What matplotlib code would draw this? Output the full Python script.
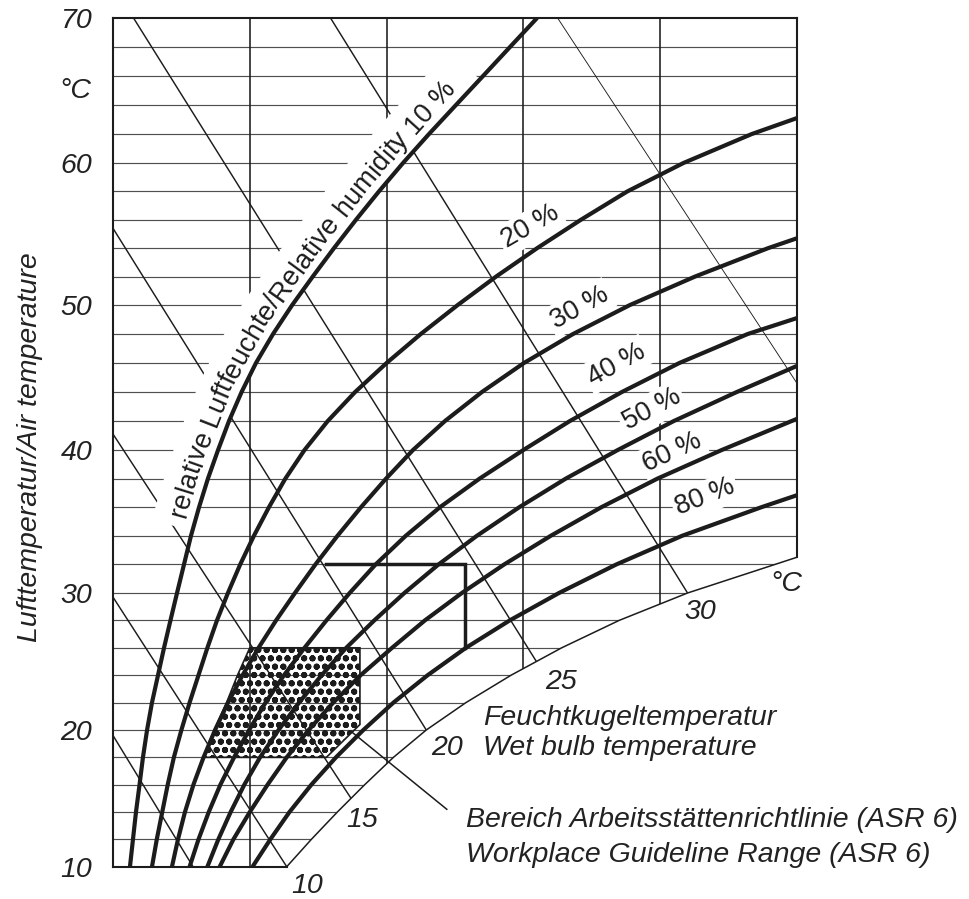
import numpy as np
import matplotlib
matplotlib.use("Agg")
import matplotlib.pyplot as plt
from matplotlib.patches import Polygon
from matplotlib.ticker import NullLocator

plt.rcParams['font.family'] = ['Liberation Sans', 'DejaVu Sans']
plt.rcParams['hatch.linewidth'] = 2.0

# ------------------------------------------------------------------ data
# x: water-vapour scale (0..50), y: air temperature in degC
rh10_T = [10, 12, 14, 16, 18, 20, 22, 24, 26, 28, 30, 32, 34, 36, 38, 40,
          42, 44, 46, 48, 50, 52, 54, 56, 58, 60, 62, 64, 66, 68, 70]
rh10_e = [1.24, 1.46, 1.68, 1.94, 2.19, 2.49, 2.85, 3.29, 3.73, 4.20, 4.68, 5.19, 5.70, 6.29,
          6.94, 7.68, 8.48, 9.40, 10.45, 11.70, 13.10, 14.60, 16.15, 17.76, 19.44, 21.20,
          23.10, 25.07, 27.05, 29.02, 31.0]
rh20_T = [10, 12, 14, 16, 18, 20, 22, 24, 26, 28, 30, 32, 34, 36, 38, 40,
          42, 44, 46, 48, 50, 52, 54, 56, 58, 60, 62, 63.1]
rh20_e = [2.85, 3.2, 3.6, 4.0, 4.45, 5.0, 5.6, 6.25, 6.9, 7.6, 8.4, 9.3, 10.3, 11.4, 12.6, 14.0,
          15.7, 17.7, 20.0, 22.5, 25.2, 28.0, 31.0, 34.2, 37.6, 41.7, 46.7, 50.0]
rh30_T = [10, 12, 14, 16, 18, 20, 22, 24, 26, 28, 30, 32, 34, 36, 38, 40,
          42, 44, 46, 48, 50, 52, 54, 54.7]
rh30_e = [4.31, 4.75, 5.26, 5.88, 6.62, 7.46, 8.41, 9.47, 10.64, 11.92, 13.30, 14.80, 16.41,
          18.13, 19.96, 21.93, 24.27, 26.97, 30.04, 33.63, 37.79, 42.54, 47.88, 50.0]
rh40_T = [10, 12, 14, 16, 18, 20, 22, 24, 26, 28, 30, 32, 34, 36, 38, 40,
          42, 44, 46, 48, 49.1]
rh40_e = [5.6, 6.25, 7.0, 7.85, 8.85, 9.95, 11.15, 12.5, 14.0, 15.6, 17.3, 19.2, 21.4, 23.9,
          26.8, 30.0, 33.4, 37.2, 41.4, 46.4, 50.0]
rh50_T = [10, 12, 14, 16, 18, 20, 22, 24, 26, 28, 30, 32, 34, 36, 38, 40, 42, 44, 45.8]
rh50_e = [6.9, 7.7, 8.6, 9.6, 10.75, 12.1, 13.6, 15.25, 17.05, 19.1, 21.3, 23.8, 26.6, 29.7,
          33.1, 36.9, 41.0, 45.6, 50.0]
rh60_T = [10, 12, 14, 16, 18, 20, 22, 24, 26, 28, 30, 32, 34, 36, 38, 40, 42.15]
rh60_e = [7.8, 8.8, 10.0, 11.3, 12.7, 14.3, 16.1, 18.1, 20.4, 22.8, 25.5, 28.6, 32.0, 35.7, 39.8,
          44.5, 50.0]
rh80_T = [10, 12, 14, 16, 18, 20, 22, 24, 26, 28, 30, 32, 34, 36, 36.84]
rh80_e = [10.2, 11.5, 12.9, 14.5, 16.3, 18.3, 20.5, 23.0, 25.8, 29.0, 32.6, 36.8, 41.6, 47.4, 50.0]
# saturation line (100 %), lower right boundary of the chart
sat_T = [10, 12, 14, 16, 18, 20, 22, 24, 26, 28, 30, 32, 32.5]
sat_e = [12.7, 14.5, 16.4, 18.4, 20.5, 22.9, 25.8, 29.1, 32.8, 37.0, 42.0, 48.4, 50.0]

# wet bulb temperature lines (start / end points)
wb_e0 = [0.0, 0.0, 0.0, 0.0, 1.5, 15.9, 32.5]
wb_T0 = [19.6, 29.7, 41.1, 55.4, 70.0, 70.0, 70.0]
wb_e1 = [5.85, 12.7, 17.4, 22.9, 30.95, 42.0, 50.0]
wb_T1 = [10.0, 10.0, 15.0, 20.0, 25.0, 30.0, 44.6]
wb_labels = ['10', '15', '20', '25', '30']

# ASR 6 range (dotted area), upper limit line and leader
asr_e = [10.0, 18.05, 18.05, 15.6, 6.7, 7.4, 8.3, 9.1]
asr_T = [26, 26, 20.4, 18, 18, 20, 22, 24]
limit_e = [15.6, 25.7, 25.7]
limit_T = [32, 32, 26]
leader_e = [17.4, 24.4]
leader_T = [19.9, 14.2]

rh_label_text = ['20 %', '30 %', '40 %', '50 %', '60 %', '80 %']
rh_label_e = [30.5, 34.1, 36.8, 39.4, 40.9, 43.3]
rh_label_T = [55.5, 49.8, 45.9, 42.8, 39.8, 36.7]
rh_label_rot = [30, 29, 29, 28, 25, 22]

y_ticks = [10, 20, 30, 40, 50, 60, 70]
y_tick_labels = ['10', '20', '30', '40', '50', '60', '70']
x_grid = [10, 20, 30, 40]
h_grid = list(range(12, 70, 2))
curved_label = 'relative Luftfeuchte/Relative humidity 10 %'

# temperature axis calibration (axis is slightly non-uniform in the source)
scale_T = [10, 20, 30, 40, 50, 60, 70]
scale_u = [0.0, 136.7, 273.7, 416.7, 561.7, 703.7, 848.7]

# ------------------------------------------------------------------ figure
W, H = 969, 899
fig = plt.figure(figsize=(W / 100, H / 100), dpi=100)
fig.patch.set_facecolor('white')
ax = fig.add_axes([113 / W, (H - 866.7) / H, 684 / W, 848.7 / H])


def fwd(t):
    return np.interp(t, scale_T, scale_u)


def inv(u):
    return np.interp(u, scale_u, scale_T)


ax.set_yscale('function', functions=(fwd, inv))
ax.set_xlim(0, 50)
ax.set_ylim(10, 70)
for s in ax.spines.values():
    s.set_visible(False)
ax.set_xticks([])
ax.set_yticks(y_ticks)
FS = 20.5
FS_IN = 19.5
INK = '#1c1c1c'
ax.set_yticklabels(y_tick_labels, fontsize=FS, fontstyle='italic', color='#222222')
ax.yaxis.set_minor_locator(NullLocator())
ax.tick_params(axis='y', length=0, pad=15)

region = Polygon([(0, 10)] + list(zip(sat_e, sat_T)) + [(50, 70), (0, 70)],
                 closed=True, fc='none', ec='none', transform=ax.transData)
ax.add_patch(region)

for T in h_grid:
    ln, = ax.plot([0, 50], [T, T], color='#505050', lw=0.85, zorder=1)
    ln.set_clip_path(region)
for xv in x_grid:
    ln, = ax.plot([xv, xv], [10, 70], color=INK, lw=1.15, zorder=1.2)
    ln.set_clip_path(region)
for i in range(len(wb_e0)):
    lw = 0.65 if i == len(wb_e0) - 1 else 1.05
    ln, = ax.plot([wb_e0[i], wb_e1[i]], [wb_T0[i], wb_T1[i]], color=INK, lw=lw, zorder=1.5)
    ln.set_clip_path(region)

# dotted ASR area
ax.add_patch(Polygon(list(zip(asr_e, asr_T)), closed=True, fc='none', ec=INK,
                     lw=1.2, hatch='oo', zorder=2.5))

# relative humidity curves
for Ts, es in [(rh10_T, rh10_e), (rh20_T, rh20_e), (rh30_T, rh30_e), (rh40_T, rh40_e),
               (rh50_T, rh50_e), (rh60_T, rh60_e), (rh80_T, rh80_e)]:
    ln, = ax.plot(es, Ts, color=INK, lw=3.0, zorder=5, solid_capstyle='butt',
                  solid_joinstyle='round')
    ln.set_clip_path(region)

# saturation line and borders
ax.plot(sat_e, sat_T, color=INK, lw=1.1, zorder=6)
ax.plot([0, 0], [10, 70], color=INK, lw=1.5, zorder=6, clip_on=False)
ax.plot([0, 50], [70, 70], color=INK, lw=1.5, zorder=6, clip_on=False)
ax.plot([50, 50], [sat_T[-1], 70], color=INK, lw=1.5, zorder=6, clip_on=False)
ax.plot([0, sat_e[0]], [10, 10], color=INK, lw=1.5, zorder=6, clip_on=False)

ax.plot(limit_e, limit_T, color=INK, lw=2.5, zorder=5, solid_joinstyle='miter')
ax.plot(leader_e, leader_T, color=INK, lw=1.1, zorder=5, clip_on=False)

for txt, xe, yt, rot in zip(rh_label_text, rh_label_e, rh_label_T, rh_label_rot):
    ax.text(xe, yt, txt, fontsize=FS_IN, rotation=rot, rotation_mode='anchor',
            ha='center', va='center', color=INK, zorder=4,
            bbox=dict(boxstyle='square,pad=0.12', fc='white', ec='none'))

# ------------------------------------------------------------------ curved label
fig.canvas.draw()
renderer = fig.canvas.get_renderer()
P = ax.transData.transform(np.column_stack([rh10_e, rh10_T]))
S = np.concatenate([[0.0], np.cumsum(np.hypot(*np.diff(P, axis=0).T))])


def pt(s):
    return np.array([np.interp(s, S, P[:, 0]), np.interp(s, S, P[:, 1])])


def nrm(s, h=14.0):
    a, b = pt(s - h), pt(s + h)
    t = (b - a) / np.hypot(*(b - a))
    return np.array([-t[1], t[0]])


ss = np.arange(0.0, S[-1], 2.0)


def offset(d):
    return np.array([pt(s) + d * nrm(s) for s in ss])


to_data = ax.transData.inverted()
s_a = np.interp(34.3, rh10_T, S)
s_b = np.interp(65.8, rh10_T, S)
sel = (ss >= s_a) & (ss <= s_b)
band = to_data.transform(offset(21.0)[sel])
ax.plot(band[:, 0], band[:, 1], color='white', lw=42 * 0.72, zorder=3,
        solid_capstyle='butt')

Q = offset(10.0)
SQ = np.concatenate([[0.0], np.cumsum(np.hypot(*np.diff(Q, axis=0).T))])


def qpt(s):
    return np.array([np.interp(s, SQ, Q[:, 0]), np.interp(s, SQ, Q[:, 1])])


def width(s):
    t = fig.text(0, 0, s, fontsize=FS_IN)
    w = t.get_window_extent(renderer).width
    t.remove()
    return w


base_w = width('||')
pos = SQ[np.searchsorted(ss, np.interp(35.0, rh10_T, S))]
for ch in curved_label:
    w = width('|' + ch + '|') - base_w
    c = pos + w / 2
    a, b = qpt(c - 8), qpt(c + 8)
    ang = np.degrees(np.arctan2(b[1] - a[1], b[0] - a[0]))
    xy = to_data.transform(qpt(c))
    if ch != ' ':
        ax.text(xy[0], xy[1], ch, fontsize=FS_IN, rotation=ang, rotation_mode='anchor',
                ha='center', va='baseline', color=INK, zorder=7)
    pos += w

# ------------------------------------------------------------------ outside texts


def ftext(px, py, s, **kw):
    kw.setdefault('fontsize', FS)
    kw.setdefault('fontstyle', 'italic')
    kw.setdefault('color', '#222222')
    fig.text(px / W, 1 - py / H, s, **kw)


ftext(30, 447, 'Lufttemperatur/Air temperature', rotation=90, ha='center', va='center')
ftext(75, 91, '°C', ha='center', va='center')
ftext(786, 584, '°C', ha='center', va='center')
wb_px = [(307, 886), (362, 820), (447, 748), (561, 682), (700, 612)]
for lab, (px, py) in zip(wb_labels, wb_px):
    ftext(px, py, lab, ha='center', va='center')
ftext(483, 718, 'Feuchtkugeltemperatur', ha='left', va='center')
ftext(483, 748, 'Wet bulb temperature', ha='left', va='center')
ftext(466, 820, 'Bereich Arbeitsstättenrichtlinie (ASR 6)', ha='left', va='center')
ftext(466, 855, 'Workplace Guideline Range (ASR 6)', ha='left', va='center')

fig.savefig('out.png', dpi=100, facecolor='white')
